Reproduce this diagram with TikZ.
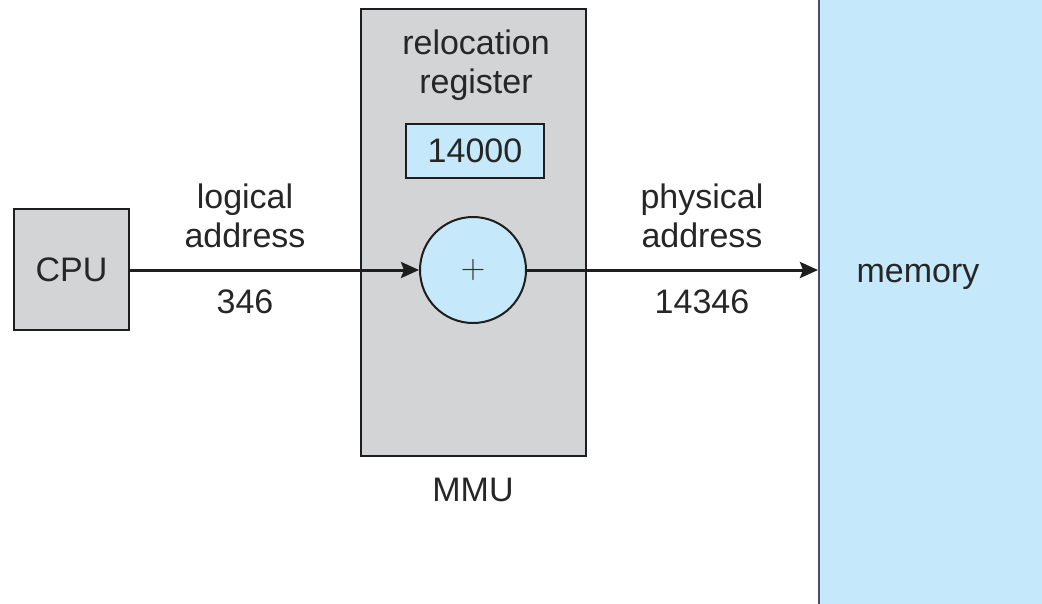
\documentclass[tikz,border=0pt]{standalone}
\usepackage{fontspec}
\setmainfont{Liberation Sans}
\newfontfamily\opfont{Latin Modern Roman}
\usetikzlibrary{arrows.meta}
\definecolor{boxgray}{RGB}{211,212,213}
\definecolor{memblue}{RGB}{197,232,250}
\definecolor{edge}{RGB}{30,30,30}
\tikzset{
  lbl/.style={font=\fontsize{34}{39}\selectfont, text=black!85, align=center, inner sep=0pt},
  graybox/.style={draw=edge, line width=2pt, fill=boxgray, inner sep=0pt},
  bluebox/.style={draw=edge, line width=2pt, fill=memblue, inner sep=0pt},
  flow/.style={draw=edge, line width=3pt, -{Stealth[length=18pt,width=16pt,inset=3pt]}},
}
\begin{document}
\begin{tikzpicture}[x=1pt,y=-1pt]
\useasboundingbox (0,0) rectangle (1042,603);
% memory column running off the page
\node[bluebox, draw=black!70!blue!40!gray, minimum width=227pt, minimum height=613pt] (mem) at (932.5,301.5) {};
\node[lbl, anchor=base] (memlbl) at (918,282) {memory};
% MMU
\node[graybox, minimum width=225pt, minimum height=447pt] (mmu) at (473.5,232.5) {};
\node[lbl] (mmulbl) at (473,490) {MMU};
\node[lbl] (rellbl) at (476,65) {relocation\\register};
\node[bluebox, minimum width=138pt, minimum height=54pt, font=\fontsize{34}{39}\selectfont, text=black!85] (reg) at (475,151) {14000};
\node[bluebox, circle, minimum size=106pt, font=\opfont\fontsize{34}{34}\selectfont, text=black!80] (add) at (473,270) {+};
% CPU
\node[graybox, minimum width=115pt, minimum height=121pt, font=\fontsize{34}{39}\selectfont, text=black!85] (cpu) at (71.5,269.5) {CPU};
% address paths
\draw[flow] (cpu.east |- add) -- (add.west);
\draw[flow] (add.east) -- (add.east -| mem.west);
\node[lbl] (logl) at (245,215.5) {logical\\address};
\node[lbl] (logv) at (245,302) {346};
\node[lbl] (phyl) at (702,215.5) {physical\\address};
\node[lbl] (phyv) at (702,302) {14346};
\end{tikzpicture}
\end{document}
